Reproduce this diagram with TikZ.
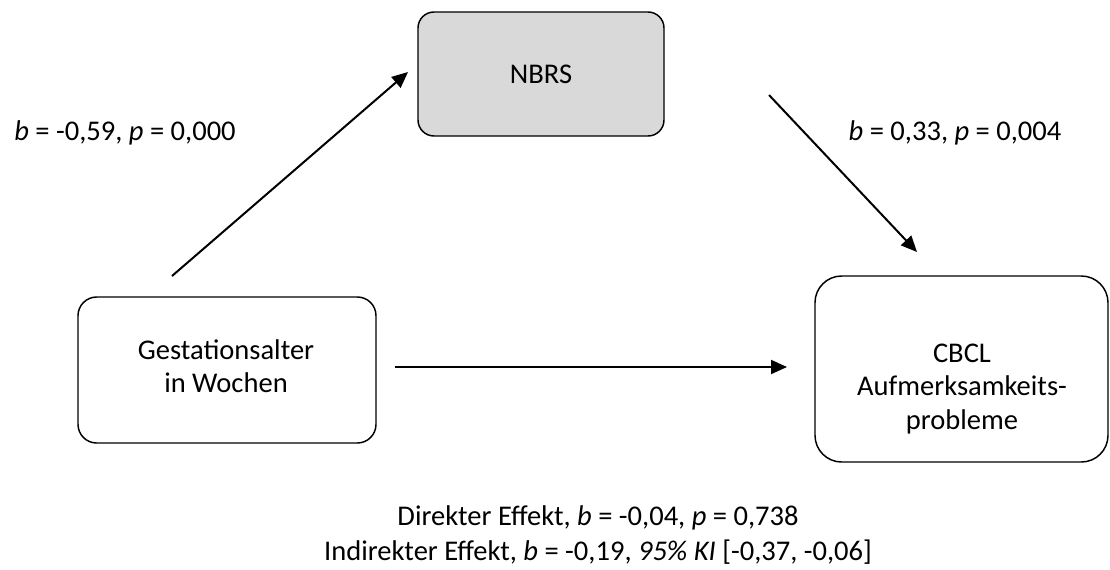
\documentclass[tikz,border=0pt]{standalone}
\usepackage{fontspec}
\setmainfont{Carlito}
\usetikzlibrary{arrows.meta}
\begin{document}
\begin{tikzpicture}[x=0.75pt,y=-0.75pt,
  every node/.style={font=\fontsize{21.4}{25}\selectfont},
  box/.style={draw=black,line width=1.1pt,rounded corners=12pt,inner sep=0pt},
  txt/.style={align=center,inner sep=0pt},
  conn/.style={line width=1.5pt,-{Triangle[length=12pt,width=10.5pt]}}]
\useasboundingbox (0,0) rectangle (1110,569);
% boxes
\node[box,fill=black!15,minimum width=184.5pt,minimum height=93pt] (nbrs) at (541,74) {};
\node[box,rounded corners=14pt,minimum width=223.5pt,minimum height=109.5pt] (ga) at (227,370) {};
\node[box,rounded corners=20pt,minimum width=219.75pt,minimum height=139.5pt] (cbcl) at (961.5,369) {};
% box texts
\node[txt] (nbrst) at (nbrs.center) {NBRS};
\node[txt] (gat) at (226,366) {Gestationsalter\\in Wochen};
\node[txt] (cbclt) at (962,389) {CBCL\\Aufmerksamkeits-\\probleme};
% connectors
\coordinate (a1s) at (172,276);
\coordinate (a1e) at (408,72);
\coordinate (a2s) at (769,95);
\coordinate (a2e) at (917,252);
\coordinate (a3s) at (395,367);
\coordinate (a3e) at (787,367);
\draw[conn] (a1s) -- (a1e);
\draw[conn] (a2s) -- (a2e);
\draw[conn] (a3s) -- (a3e);
% labels
\node[txt] (l1) at (125,133) {\textit{b} = -0,59, \textit{p} = 0,000};
\node[txt] (l2) at (955,133) {\textit{b} = 0,33, \textit{p} = 0,004};
\node[txt,font=\fontsize{21.4}{26}\selectfont] (eff) at (598,535) {Direkter Effekt, \textit{b} = -0,04, \textit{p} = 0,738\\Indirekter Effekt, \textit{b} = -0,19, \textit{95\% KI} [-0,37, -0,06]};
\end{tikzpicture}
\end{document}
